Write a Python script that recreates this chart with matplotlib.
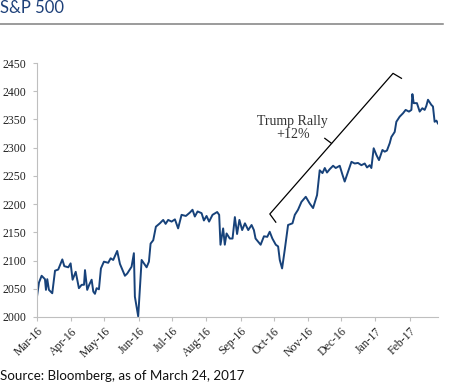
import numpy as np
import pandas as pd
import matplotlib
matplotlib.use("Agg")
import matplotlib.pyplot as plt

# S&P 500 level (days after 2016-03-24)
start = pd.Timestamp("2016-03-24")
days = [0, 1.8, 4.2, 7.2, 8.1, 9.3, 10.8, 13.8, 16.3, 19.2, 22.9, 24.7, 28.3, 30.4,
        32.2, 35, 37.9, 40.4, 42.5, 43.4, 45.4, 47.2, 49.4, 50.9, 52.4, 53.9, 56, 57.8,
        60.5, 64.4, 66.6, 68.9, 72.5, 75, 79.5, 81.6, 85.5, 87.6, 88.5, 91.5,
        94.6, 99.1, 101.2, 102.7, 105.1, 107.5, 111.1, 114.1, 116.3, 118.6, 121.7, 124.7,
        127.6, 130.7, 134.6, 138.2, 140.6, 142.7, 145.2, 148.8, 150.9, 153.3, 155.6, 158.7,
        162.9, 164.7, 165.9, 168.3, 169.8, 171.4, 174.3, 176.8, 178.9, 180.9, 183, 185.5,
        188, 191, 194, 196.1, 197.6, 202.2, 205.2, 208.2, 210.4, 212.8, 215.9, 218, 219.5,
        221.6, 224, 227, 231, 233.1, 236, 239.1, 243, 246.6, 249.6, 253.2, 255.6, 258.1,
        260.2, 262.2, 264.7, 267.7, 270.1, 273.7, 276.2, 278.2, 281.2, 284.3, 287.3, 290.2,
        293.3, 296.3, 298.4, 300.8, 302.3, 304.4, 306.9, 309.2, 312.3, 314.4, 316.4, 318.9,
        320.4, 323.4, 324.9, 327.9, 330.9, 333.3, 336.3, 338.5, 339.4, 340.6, 343.5, 346,
        348.4, 350.5, 352, 353.5, 356.5, 358, 359.5, 361.1, 362.5]
spx = [2036, 2061, 2073, 2067, 2048, 2067, 2048, 2042, 2082, 2084, 2102, 2090, 2088, 2095,
       2066, 2080, 2051, 2057, 2057, 2083, 2048, 2057, 2066, 2045, 2041, 2051, 2049, 2086,
       2098, 2096, 2104, 2101, 2117, 2094, 2073, 2077, 2089, 2113, 2036, 2001,
       2101, 2088, 2098, 2130, 2136, 2160, 2166, 2172, 2165, 2172, 2169, 2173,
       2157, 2181, 2179, 2185, 2190, 2178, 2187, 2184, 2171, 2179, 2169, 2181,
       2186, 2181, 2128, 2157, 2128, 2148, 2139, 2139, 2177, 2147, 2172, 2154,
       2166, 2154, 2163, 2154, 2139, 2128, 2143, 2142, 2151, 2139, 2128, 2125, 2101,
       2086, 2119, 2163, 2166, 2181, 2190, 2204, 2213, 2201, 2193, 2216, 2260, 2255,
       2264, 2256, 2262, 2268, 2264, 2268, 2252, 2240, 2257, 2275, 2272, 2273,
       2269, 2272, 2265, 2269, 2264, 2299, 2287, 2278, 2296, 2293, 2295, 2308,
       2319, 2328, 2346, 2355, 2361, 2367, 2364, 2367, 2395, 2379, 2379, 2364,
       2370, 2367, 2374, 2385, 2376, 2373, 2346, 2348, 2343]

# bracket for the "Trump Rally" note: (day, level)
bracket_days = [215.9, 210.5, 321.9, 329.5]
bracket_vals = [2168, 2182.5, 2431.8, 2423]
notch_days = [266.2, 260.2]
notch_vals = [2307.8, 2316.6]

dates = start + pd.to_timedelta(days, unit="D")
ticks = pd.date_range(start, periods=12, freq=pd.DateOffset(months=1))
tick_labels = [t.strftime("%b-%y") for t in ticks]

serif = "Liberation Serif"
grey = "#bfbfbf"

fig = plt.figure(figsize=(4.5, 3.87), dpi=100)
ax = fig.add_axes([0.0822, 0.181, 0.891, 0.656])

ax.plot(dates, spx, color="#17427a", linewidth=1.4)
ax.plot(start + pd.to_timedelta(bracket_days, unit="D"), bracket_vals,
        color="black", linewidth=0.9)
ax.plot(start + pd.to_timedelta(notch_days, unit="D"), notch_vals,
        color="black", linewidth=0.9)
ax.text(start + pd.Timedelta(days=231.3), 2335, "Trump Rally\n+12%", ha="center",
        va="center", fontsize=10, family=serif, color="#333333", linespacing=1.0)

ax.set_xlim(start, start + pd.Timedelta(days=362.5))
ax.set_ylim(2000, 2450)
ax.set_yticks(np.arange(2000, 2451, 50))
ax.set_xticks(ticks)
ax.set_xticklabels(tick_labels, rotation=45, ha="right", va="top",
                   rotation_mode="anchor")

for lab in ax.get_xticklabels() + ax.get_yticklabels():
    lab.set_family(serif)
    lab.set_fontsize(8.5)
    lab.set_color("#222222")

ax.spines["top"].set_visible(False)
ax.spines["right"].set_visible(False)
ax.spines["left"].set_color(grey)
ax.spines["bottom"].set_color(grey)
ax.tick_params(axis="both", colors=grey, length=3, labelcolor="#222222")
ax.tick_params(axis="y", pad=5)
ax.tick_params(axis="x", pad=3)

fig.text(0.0, 0.967, "S&P 500", fontsize=12, family="Lato",
         color="#1d4079", va="baseline", ha="left")
fig.add_artist(plt.Line2D([0, 0.984], [0.938, 0.938], color="#808080",
                          linewidth=1.1, transform=fig.transFigure))
fig.text(0.0, 0.017, "Source: Bloomberg, as of March 24, 2017", fontsize=9.6,
         family="Lato", color="#111111", va="baseline", ha="left")

fig.savefig("out.png", dpi=100)
